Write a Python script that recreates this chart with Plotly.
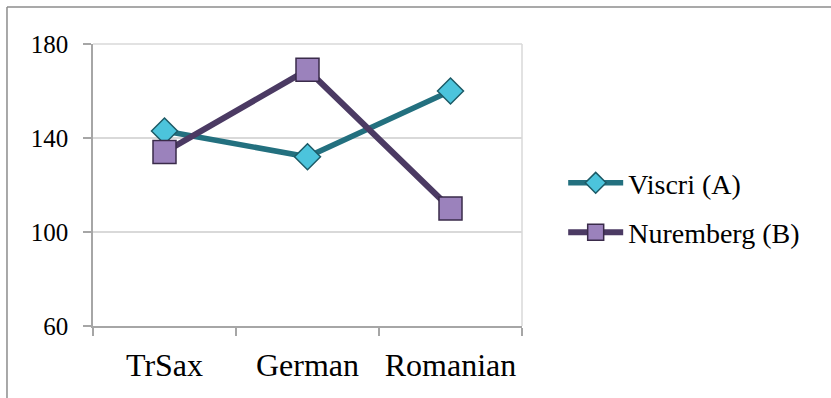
import plotly.graph_objects as go

# Categories and series values
categories = ["TrSax", "German", "Romanian"]
viscri = [143, 132, 160]
nuremberg = [134, 169, 110]
series_names = ["Viscri (A)", "Nuremberg (B)"]
y_ticks = [60, 100, 140, 180]

FONT = "Liberation Serif"

fig = go.Figure()

fig.add_trace(go.Scatter(
    x=categories, y=viscri, name=series_names[0], mode="lines+markers",
    legendgroup="a",
    line=dict(color="#23707F", width=5.5),
    marker=dict(symbol="diamond", size=20, color="#4CC4DC",
                line=dict(color="#1D5A66", width=1.5)),
))
fig.add_trace(go.Scatter(
    x=categories, y=nuremberg, name=series_names[1], mode="lines+markers",
    legendgroup="b",
    line=dict(color="#4B3A63", width=6),
    marker=dict(symbol="square", size=23, color="#9B82BC",
                line=dict(color="#3A2B4A", width=1.5)),
))

# Outer chart frame and light plot-area border (top/right)
fig.add_shape(type="line", xref="paper", yref="paper",
              x0=-0.2005, x1=1.8, y0=1.131, y1=1.131,
              line=dict(color="#8C8C8C", width=1.5))
fig.add_shape(type="line", xref="paper", yref="paper",
              x0=-0.2005, x1=-0.2005, y0=1.131, y1=-0.5,
              line=dict(color="#8C8C8C", width=1.5))
fig.add_shape(type="line", xref="paper", yref="paper",
              x0=0, x1=1, y0=1, y1=1,
              line=dict(color="#D9D9D9", width=1.5), layer="below")
fig.add_shape(type="line", xref="paper", yref="paper",
              x0=1, x1=1, y0=0, y1=1,
              line=dict(color="#D9D9D9", width=1.5), layer="below")

fig.update_layout(
    width=831, height=398,
    margin=dict(l=93, r=309, t=44, b=72),
    paper_bgcolor="white", plot_bgcolor="white",
    font=dict(family=FONT, color="black"),
    showlegend=True,
    legend=dict(x=1.096, xanchor="left", y=0.42, yanchor="middle",
                font=dict(family=FONT, size=28, color="black"),
                itemwidth=55, tracegroupgap=10,
                bgcolor="rgba(0,0,0,0)"),
    xaxis=dict(
        type="category", categoryorder="array", categoryarray=categories,
        range=[-0.5, 2.5],
        showline=True, linecolor="#A6A6A6", linewidth=1.5,
        ticks="outside", tickson="boundaries", ticklen=8,
        tickcolor="#A6A6A6", tickwidth=1.5,
        showgrid=False,
        tickfont=dict(family=FONT, size=32, color="black"),
        ticklabelstandoff=10,
    ),
    yaxis=dict(
        range=[60, 180], tickvals=y_ticks,
        showline=True, linecolor="#A6A6A6", linewidth=1.5,
        ticks="outside", ticklen=8, tickcolor="#A6A6A6", tickwidth=1.5,
        showgrid=True, gridcolor="#D9D9D9", gridwidth=1.5,
        zeroline=False,
        tickfont=dict(family=FONT, size=25, color="black"),
        ticklabelstandoff=10,
    ),
)

fig.write_html("out.html")
